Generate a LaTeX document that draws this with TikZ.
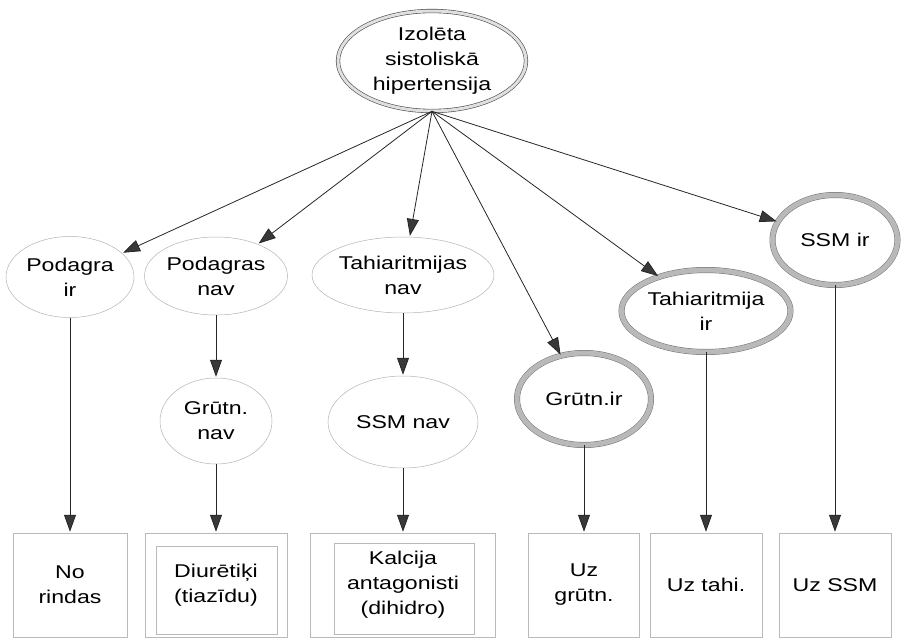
\documentclass[tikz,border=0pt]{standalone}
\usepackage{fontspec}
\setmainfont{Liberation Sans}[FakeStretch=1.25]
\usetikzlibrary{arrows.meta,shapes.geometric}

\begin{document}
\begin{tikzpicture}[x=1pt,y=-1pt,
    every node/.style={font=\fontsize{18.5}{25}\selectfont, align=center, inner sep=0pt},
    plain/.style={ellipse, draw=gray!60, line width=0.5pt},
    ring/.style={ellipse, draw=black!55, line width=0.5pt, double=gray!55, double distance=5pt},
    rootring/.style={ellipse, draw=black!70, line width=0.6pt, double=gray!25, double distance=3pt},
    leaf/.style={rectangle, draw=gray!55, line width=0.5pt, minimum height=104pt},
    arr/.style={draw=black!85, line width=0.8pt, shorten >=1pt,
      -{Triangle[length=17pt,width=12pt,fill=gray!45!black]}}]
      \useasboundingbox (0,0) rectangle (905,640);
      \begin{scope}
        \node[rootring, minimum width=188pt, minimum height=100pt] (root) at (432,61) {Izolēta\\sistoliskā\\hipertensija};
      \end{scope}
      \begin{scope}
        \node[plain, minimum width=128pt, minimum height=81pt] (podir) at (70,277) {Podagra\\ir};
        \node[plain, minimum width=143pt, minimum height=78pt] (podnav) at (216,276) {Podagras\\nav};
        \node[plain, minimum width=182pt, minimum height=76pt] (tahnav) at (403,275) {Tahiaritmijas\\nav};
        \node[plain, minimum width=112pt, minimum height=86pt] (grnav) at (216,421) {Grūtn.\\nav};
        \node[plain, minimum width=150pt, minimum height=92pt] (ssmnav) at (403,422) {SSM nav};
      \end{scope}
      \begin{scope}
        \node[ring, minimum width=134pt, minimum height=92pt] (grir) at (584,399) {Grūtn.ir};
        \node[ring, minimum width=169pt, minimum height=82pt] (tahir) at (706,311) {Tahiaritmija\\ir};
        \node[ring, minimum width=125pt, minimum height=90pt] (ssmir) at (835,240) {SSM ir};
      \end{scope}
      \begin{scope}
        \node[leaf, minimum width=114pt] (b1) at (70,585) {No\\rindas};
        \node[leaf, minimum width=142pt] (diur) at (216,585) {Diurētiķi\\(tiazīdu)};
        \node[leaf, minimum width=185pt] (kalc) at (403,585) {Kalcija\\antagonisti\\(dihidro)};
        \node[leaf, minimum width=111pt] (uzgr) at (584,585) {Uz\\grūtn.};
        \node[leaf, minimum width=112pt] (uztahi) at (706,585) {Uz tahi.};
        \node[leaf, minimum width=112pt] (uzssm) at (835,585) {Uz SSM};
        % inner frames
        \draw[gray!55, line width=0.5pt] ([shift={(11,13)}]diur.north west) rectangle ([shift={(-10,-3)}]diur.south east);
        \draw[gray!55, line width=0.5pt] ([shift={(24,10)}]kalc.north west) rectangle ([shift={(-22,-3)}]kalc.south east);
      \end{scope}
      \begin{scope}
        \draw[arr] (root.south) -- (podir);
        \draw[arr] (root.south) -- (podnav);
        \draw[arr] (root.south) -- (tahnav);
        \draw[arr] (root.south) -- (grir);
        \draw[arr] (root.south) -- (tahir);
        \draw[arr] (root.south) -- (ssmir);
      \end{scope}
      \begin{scope}[every path/.append style={shorten >=3pt}]
        \draw[arr] (podir) -- (b1);
        \draw[arr] (podnav) -- (grnav);
        \draw[arr] (grnav) -- (diur);
        \draw[arr] (tahnav) -- (ssmnav);
        \draw[arr] (ssmnav) -- (kalc);
        \draw[arr] (grir) -- (uzgr);
        \draw[arr] (tahir) -- (uztahi);
        \draw[arr] (ssmir) -- (uzssm);
      \end{scope}
    \end{tikzpicture}
\end{document}
